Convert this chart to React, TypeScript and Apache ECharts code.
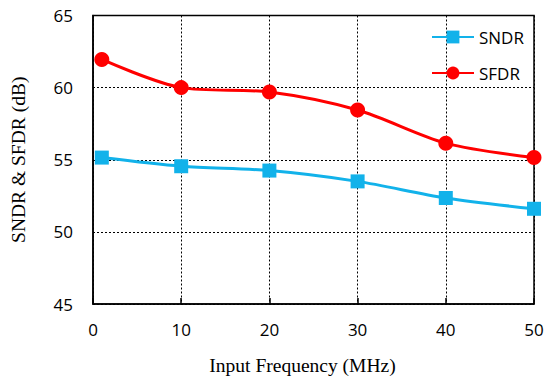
import React, { useEffect, useRef } from "react";
import * as echarts from "echarts";

const freqs = [1, 10, 20, 30, 40, 50];
const sndr = [55.15, 54.55, 54.25, 53.5, 52.35, 51.6];
const sfdr = [61.95, 60.0, 59.7, 58.45, 56.15, 55.15];
const xTicks = [0, 10, 20, 30, 40, 50];
const yTicks = [45, 50, 55, 60, 65];

export default function App() {
  const ref = useRef<HTMLDivElement>(null);
  useEffect(() => {
    const chart = echarts.init(ref.current!, null, { renderer: "svg" });
    const tickFont = { fontFamily: "Open Sans", fontSize: 17, color: "#000" };
    chart.setOption({
      animation: false,
      backgroundColor: "#fff",
      grid: { left: 79, right: 16, top: 15.5, bottom: 74, show: true, borderColor: "#000", borderWidth: 1.5 },
      legend: {
        orient: "vertical",
        left: 426,
        top: 23.5,
        itemWidth: 42,
        itemHeight: 16,
        itemGap: 19,
        textStyle: { fontFamily: "Open Sans", fontSize: 17, color: "#000" },
        data: ["SNDR", "SFDR"],
      },
      xAxis: {
        type: "value",
        min: xTicks[0],
        max: xTicks[xTicks.length - 1],
        interval: 10,
        name: "Input Frequency (MHz)",
        nameLocation: "middle",
        nameGap: 51,
        nameTextStyle: { fontFamily: "Liberation Serif", fontSize: 19.5, color: "#000", padding: [0, 22, 0, 0] },
        axisLine: { lineStyle: { color: "#000", width: 1.5 } },
        axisTick: { inside: true, length: 6, lineStyle: { color: "#000", width: 1.5 } },
        axisLabel: { ...tickFont, margin: 17, formatter: (v: number) => (xTicks.includes(v) ? String(v) : "") },
        splitLine: { show: true, lineStyle: { color: "#000", type: [2, 2], width: 1 } },
      },
      yAxis: {
        type: "value",
        min: yTicks[0],
        max: yTicks[yTicks.length - 1],
        interval: 5,
        name: "SNDR & SFDR (dB)",
        nameLocation: "middle",
        nameGap: 65,
        nameTextStyle: { fontFamily: "Liberation Serif", fontSize: 19.5, color: "#000" },
        axisLine: { show: true, lineStyle: { color: "#000", width: 1.5 } },
        axisTick: { show: false },
        axisLabel: { ...tickFont, margin: 20, formatter: (v: number) => (yTicks.includes(v) ? String(v) : "") },
        splitLine: { show: true, lineStyle: { color: "#000", type: [2, 2], width: 1 } },
      },
      series: [
        {
          name: "SNDR",
          type: "line",
          smooth: 0.3,
          data: freqs.map((f, i) => [f, sndr[i]]),
          symbol: "rect",
          symbolSize: 14,
          itemStyle: { color: "#12B2EA" },
          lineStyle: { color: "#12B2EA", width: 3 },
        },
        {
          name: "SFDR",
          type: "line",
          smooth: 0.3,
          data: freqs.map((f, i) => [f, sfdr[i]]),
          symbol: "circle",
          symbolSize: 15,
          itemStyle: { color: "#FF0000" },
          lineStyle: { color: "#FF0000", width: 3 },
        },
      ],
    });
    return () => chart.dispose();
  }, []);
  return (
    <div
      ref={ref}
      style={{ position: "absolute", left: 0, top: 0, width: 550, height: 380 }}
    />
  );
}
